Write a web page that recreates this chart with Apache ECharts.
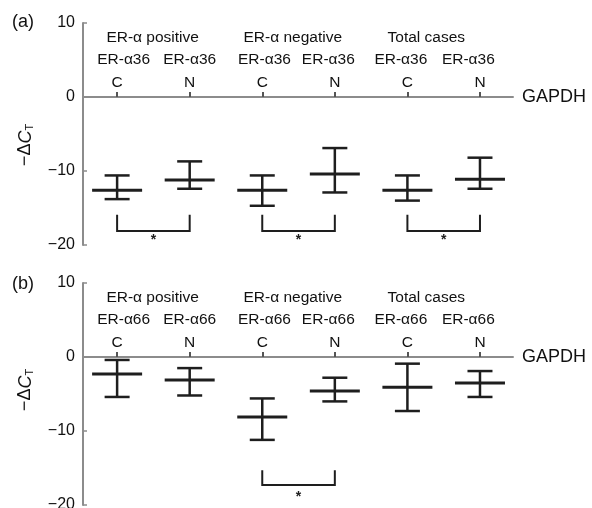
<!DOCTYPE html>
<html>
<head>
<meta charset="utf-8">
<script src="https://cdn.jsdelivr.net/npm/echarts@6/dist/echarts.min.js"></script>
<style>
    html, body { margin: 0; padding: 0; background: #fff; }
    #chart { width: 592px; height: 508px; }
</style>
</head>
<body>
<div id="chart"></div>
<script>
const positions = [1, 2, 3, 4, 5, 6];
const sideLabels = ["C", "N", "C", "N", "C", "N"];
// where the gene names sit above each tick (axis units)
const genePositions = [1.09, 2.0, 3.03, 3.91, 4.91, 5.84];
const groupPositions = [1.49, 3.42, 5.26];
const groupLabels = ["ER-α positive", "ER-α negative", "Total cases"];
const geneA = "ER-α36";
const geneB = "ER-α66";
const refName = "GAPDH";

// panel (a): ER-α36, mean and error range of -ΔCT
const meanA = [-12.6, -11.2, -12.6, -10.4, -12.6, -11.1];
const lowA = [-13.8, -12.4, -14.7, -12.9, -14.0, -12.4];
const highA = [-10.6, -8.7, -10.6, -6.9, -10.6, -8.2];

// panel (b): ER-α66
const meanB = [-2.3, -3.1, -8.1, -4.6, -4.1, -3.5];
const lowB = [-5.4, -5.2, -11.2, -6.0, -7.3, -5.4];
const highB = [-0.4, -1.5, -5.6, -2.8, -0.9, -1.9];

// significance brackets: from, to, top, bottom, star
const pairsA = [[1, 2, -15.9, -18.1, -19.4], [3, 4, -15.9, -18.1, -19.4], [5, 6, -15.9, -18.1, -19.4]];
const pairsB = [[3, 4, -15.3, -17.3, -18.9]];

const ink = "#1e1e1e";
const axisGrey = "#8c8c8c";
const font = "Liberation Sans, Arial, sans-serif";

let chart = echarts.init(document.getElementById("chart"));

function barData(mean, low, high) {
    return positions.map((p, i) => [p, mean[i], low[i], high[i]]);
}

function renderErrorBar(params, api) {
    const x = api.value(0);
    const mid = api.coord([x, api.value(1)]);
    const lo = api.coord([x, api.value(2)]);
    const hi = api.coord([x, api.value(3)]);
    const thin = { stroke: ink, lineWidth: 2.5 };
    return {
        type: "group",
        children: [
            { type: "line", shape: { x1: lo[0], y1: lo[1], x2: hi[0], y2: hi[1] }, style: thin },
            { type: "line", shape: { x1: hi[0] - 12.5, y1: hi[1], x2: hi[0] + 12.5, y2: hi[1] }, style: thin },
            { type: "line", shape: { x1: lo[0] - 12.5, y1: lo[1], x2: lo[0] + 12.5, y2: lo[1] }, style: thin },
            { type: "line", shape: { x1: mid[0] - 25, y1: mid[1], x2: mid[0] + 25, y2: mid[1] }, style: { stroke: ink, lineWidth: 3 } },
        ],
    };
}

function renderBracket(params, api) {
    const a = api.coord([api.value(0), api.value(2)]);
    const b = api.coord([api.value(1), api.value(3)]);
    const star = api.coord([(api.value(0) + api.value(1)) / 2, api.value(4)]);
    return {
        type: "group",
        children: [
            {
                type: "polyline",
                shape: { points: [[a[0], a[1]], [a[0], b[1]], [b[0], b[1]], [b[0], a[1]]] },
                style: { stroke: ink, lineWidth: 2, fill: null },
            },
            {
                type: "text",
                x: star[0],
                y: star[1],
                style: { text: "*", fill: ink, font: "bold 14px " + font, align: "center", verticalAlign: "middle" },
            },
        ],
    };
}

function textStyle(text, size) {
    return { text: text, fill: "#111", font: size + "px " + font, align: "center", verticalAlign: "middle" };
}

// gene name + C/N letter above each tick on the zero line
function headerRenderer(gene) {
    return function (params, api) {
        const i = params.dataIndex;
        const tick = api.coord([positions[i], 0]);
        const name = api.coord([genePositions[i], 0]);
        return {
            type: "group",
            children: [
                { type: "text", x: name[0], y: name[1] - 37, style: textStyle(gene, 15.5) },
                { type: "text", x: tick[0], y: tick[1] - 14, style: textStyle(sideLabels[i], 15.5) },
            ],
        };
    };
}

function renderGroup(params, api) {
    const p = api.coord([api.value(0), 0]);
    return { type: "text", x: p[0], y: p[1] - 59, style: textStyle(groupLabels[params.dataIndex], 15.5) };
}

function xAxis(gridIndex) {
    return {
        type: "value",
        gridIndex: gridIndex,
        position: "bottom",
        min: 0.53,
        max: 6.455,
        axisLine: { show: true, onZero: true, lineStyle: { color: axisGrey, width: 2 } },
        axisTick: { show: true, inside: true, length: 5, customValues: positions, lineStyle: { color: "#555", width: 2 } },
        axisLabel: { show: false },
        splitLine: { show: false },
        name: refName,
        nameLocation: "end",
        nameGap: 9,
        nameTextStyle: { fontSize: 18, color: "#111", fontFamily: font },
    };
}

function yAxis(gridIndex, namePadding) {
    return {
        type: "value",
        gridIndex: gridIndex,
        min: -20,
        max: 10,
        interval: 10,
        axisLine: { show: true, onZero: false, lineStyle: { color: axisGrey, width: 2 } },
        axisTick: { show: true, inside: true, length: 4, lineStyle: { color: axisGrey, width: 1.5 } },
        axisLabel: {
            fontSize: 16,
            color: "#111",
            margin: 8,
            fontFamily: font,
            formatter: (v) => String(v).replace("-", "−"),
        },
        splitLine: { show: false },
        name: "{d|−Δ}{c|C}{t|T}",
        nameLocation: "middle",
        nameRotate: 90,
        nameGap: 48,
        nameTextStyle: {
            padding: namePadding,
            rich: {
                d: { fontSize: 18, color: "#111", fontFamily: font },
                c: { fontSize: 18, color: "#111", fontFamily: font, fontStyle: "italic" },
                t: { fontSize: 11, color: "#111", fontFamily: font, verticalAlign: "bottom", padding: [8, 0, 0, 0] },
            },
        },
    };
}

chart.setOption({
    animation: false,
    title: [
        { text: "(a)", left: 12, top: 13, padding: 0, textStyle: { fontSize: 18, fontWeight: "normal", color: "#111", fontFamily: font } },
        { text: "(b)", left: 12, top: 275, padding: 0, textStyle: { fontSize: 18, fontWeight: "normal", color: "#111", fontFamily: font } },
    ],
    grid: [
        { left: 83, right: 79, top: 23, height: 222, outerBoundsMode: "none" },
        { left: 83, right: 79, top: 283, height: 222, outerBoundsMode: "none" },
    ],
    xAxis: [xAxis(0), xAxis(1)],
    yAxis: [yAxis(0, [0, 22, 0, 0]), yAxis(1, [0, 0, 0, 8])],
    series: [
        { type: "custom", xAxisIndex: 0, yAxisIndex: 0, renderItem: renderErrorBar, data: barData(meanA, lowA, highA), clip: false },
        { type: "custom", xAxisIndex: 0, yAxisIndex: 0, renderItem: renderBracket, data: pairsA, clip: false },
        { type: "custom", xAxisIndex: 0, yAxisIndex: 0, renderItem: headerRenderer(geneA), data: positions, clip: false },
        { type: "custom", xAxisIndex: 0, yAxisIndex: 0, renderItem: renderGroup, data: groupPositions, clip: false },
        { type: "custom", xAxisIndex: 1, yAxisIndex: 1, renderItem: renderErrorBar, data: barData(meanB, lowB, highB), clip: false },
        { type: "custom", xAxisIndex: 1, yAxisIndex: 1, renderItem: renderBracket, data: pairsB, clip: false },
        { type: "custom", xAxisIndex: 1, yAxisIndex: 1, renderItem: headerRenderer(geneB), data: positions, clip: false },
        { type: "custom", xAxisIndex: 1, yAxisIndex: 1, renderItem: renderGroup, data: groupPositions, clip: false },
    ],
});

window.addEventListener("resize", function () {
    chart.resize();
});
</script>
</body>
</html>
